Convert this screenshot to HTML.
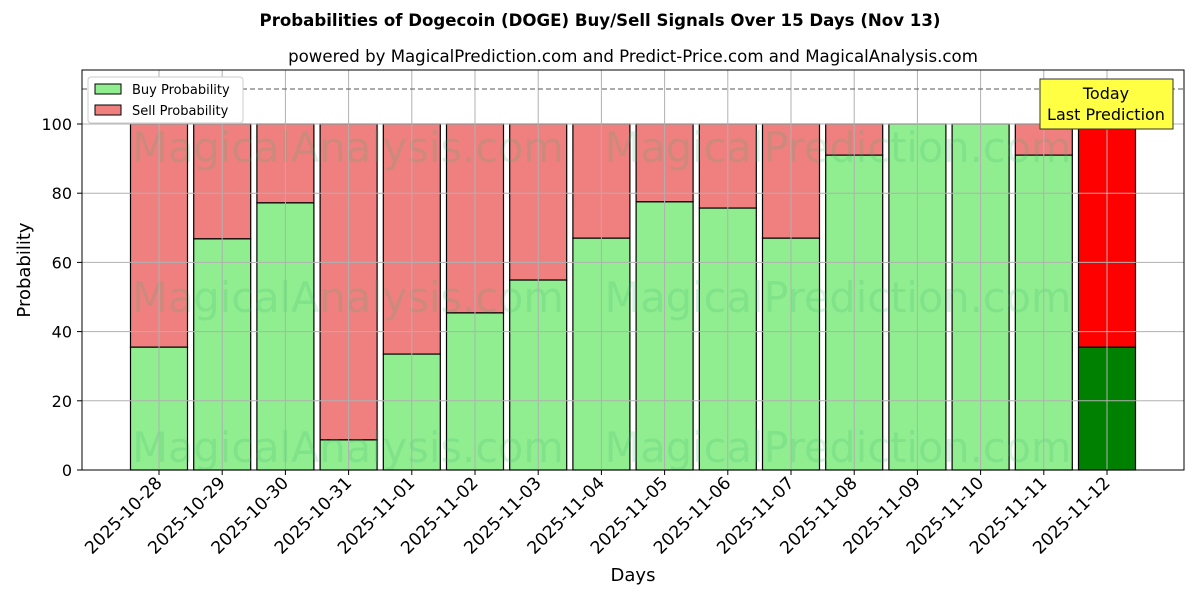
<!DOCTYPE html>
<html><head><meta charset="utf-8"><style>body{margin:0;background:#fff}svg{display:block}text{font-family:"DejaVu Sans","Liberation Sans",sans-serif}</style></head><body>
<svg width="1200" height="600" xmlns="http://www.w3.org/2000/svg">
<rect width="1200" height="600" fill="#fff"/>
<text x="600" y="26" text-anchor="middle" font-size="16.6" font-weight="bold">Probabilities of Dogecoin (DOGE) Buy/Sell Signals Over 15 Days (Nov 13)</text>
<text x="633" y="62" text-anchor="middle" font-size="16.6">powered by MagicalPrediction.com and Predict-Price.com and MagicalAnalysis.com</text>
<g id="bars"></g>
<g font-size="41.5" fill="#3cb371" opacity="0.18" text-anchor="middle">
<text x="348" y="162">MagicalAnalysis.com</text><text x="838" y="162">MagicalPrediction.com</text>
<text x="348" y="312">MagicalAnalysis.com</text><text x="838" y="312">MagicalPrediction.com</text>
<text x="348" y="462">MagicalAnalysis.com</text><text x="838" y="462">MagicalPrediction.com</text>
</g>
<g id="grid"></g>
<line x1="82" x2="1184" y1="89" y2="89" stroke="#777" stroke-dasharray="5,3" stroke-width="1.2"/>
<rect x="82" y="70" width="1102" height="400" fill="none" stroke="#000" stroke-width="1"/>
<g font-size="16" text-anchor="end" id="yt"></g>
<text x="30" y="270" font-size="18" text-anchor="middle" transform="rotate(-90 30 270)">Probability</text>
<text x="633" y="581" font-size="18" text-anchor="middle">Days</text>
<rect x="88" y="77" width="155" height="46" fill="#fff" stroke="#ccc" rx="3"/>
<rect x="95" y="84" width="26" height="10" fill="#90ee90" stroke="#000"/>
<text x="132" y="94" font-size="13">Buy Probability</text>
<rect x="95" y="105" width="26" height="10" fill="#f08080" stroke="#000"/>
<text x="132" y="115" font-size="13">Sell Probability</text>
<rect x="1040" y="79" width="133" height="50" fill="#ffff44" stroke="#333"/>
<text x="1106" y="99" font-size="16" text-anchor="middle">Today</text>
<text x="1106" y="120" font-size="16" text-anchor="middle">Last Prediction</text>
<script>
const v=[35.5,66.8,77.2,8.7,33.5,45.4,54.9,67,77.5,75.7,67,91,100,100,91,35.5];
const d=["2025-10-28","2025-10-29","2025-10-30","2025-10-31","2025-11-01","2025-11-02","2025-11-03","2025-11-04","2025-11-05","2025-11-06","2025-11-07","2025-11-08","2025-11-09","2025-11-10","2025-11-11","2025-11-12"];
const ns="http://www.w3.org/2000/svg",g=document.getElementById("bars"),gr=document.getElementById("grid"),yt=document.getElementById("yt");
function el(t,a,p){const e=document.createElementNS(ns,t);for(const k in a)e.setAttribute(k,a[k]);(p||g).appendChild(e);return e;}
const Y=x=>470-x*3.46;
for(let i=0;i<16;i++){const c=159+i*63.2;el("line",{x1:c,x2:c,y1:70,y2:470,stroke:"#b0b0b0","stroke-width":1},gr);}
for(let t=0;t<=100;t+=20){el("line",{x1:82,x2:1184,y1:Y(t),y2:Y(t),stroke:"#b0b0b0","stroke-width":1},gr);
const tx=el("text",{x:72,y:Y(t)+6},yt);tx.textContent=t;el("line",{x1:77,x2:82,y1:Y(t),y2:Y(t),stroke:"#000"},yt);}
for(let i=0;i<16;i++){const c=159+i*63.2,l=c-28.5,last=i==15;
el("rect",{x:l,y:Y(100),width:57,height:Y(v[i])-Y(100),fill:last?"#ff0000":"#f08080",stroke:"#000","stroke-width":1.2});
el("rect",{x:l,y:Y(v[i]),width:57,height:470-Y(v[i]),fill:last?"#008000":"#90ee90",stroke:"#000","stroke-width":1.2});
el("line",{x1:c,x2:c,y1:470,y2:475,stroke:"#000"},gr);
const t=el("text",{x:c+4,y:484,"font-size":17.3,"text-anchor":"end",transform:`rotate(-45 ${c+4} 484)`},gr);t.textContent=d[i];}
</script>
</svg>
</body></html>
